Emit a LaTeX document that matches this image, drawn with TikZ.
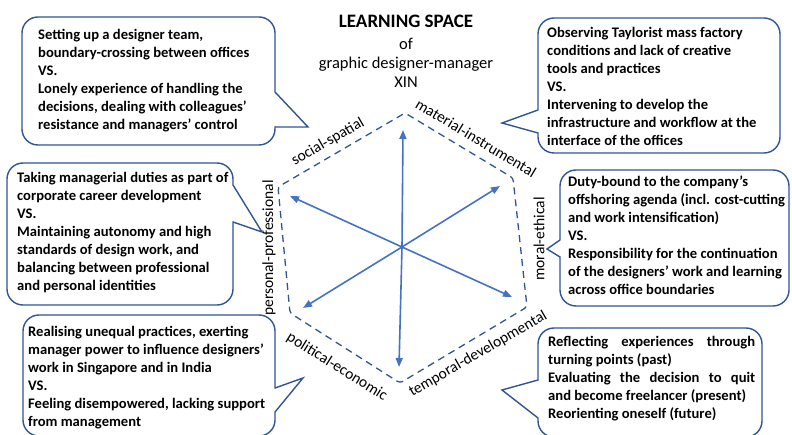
\documentclass[tikz,border=0pt]{standalone}
\usepackage{fontspec}
\setmainfont{Carlito}
\usetikzlibrary{arrows.meta}
\definecolor{darkblue}{HTML}{2F5597}
\definecolor{lightblue}{HTML}{4472C4}
\begin{document}
\begin{tikzpicture}[x=1pt,y=-1pt,
box_style/.style={draw=darkblue,line width=1.4pt,fill=white,rounded corners=16pt},
tip_style/.style={draw=darkblue,line width=1.4pt,line join=miter},
gap_style/.style={fill=white},
text_style/.style={anchor=north west,inner sep=0pt,align=left,font=\fontsize{14.6}{18}\selectfont\bfseries},
hex_style/.style={draw=darkblue,line width=1.3pt,dash pattern=on 7pt off 5pt,rounded corners=3pt},
spoke_style/.style={draw=lightblue,line width=1.6pt,-{Triangle[length=9pt,width=7pt]}},
label_style/.style={inner sep=0pt,font=\fontsize{15.5}{18}\selectfont},
title_style/.style={anchor=north,inner sep=0pt,align=center,font=\fontsize{16.5}{19}\selectfont}]
\useasboundingbox (0,0) rectangle (792,435);

\node[title_style] (title) at (406,15) {{\fontsize{19}{20}\selectfont\bfseries LEARNING SPACE}\\[3pt]of\\graphic designer-manager\\XIN};

\coordinate (h0) at (405,113);
\coordinate (h1) at (513,178);
\coordinate (h2) at (527,307);
\coordinate (h3) at (400,383);
\coordinate (h4) at (290,313);
\coordinate (h5) at (278,187);
\draw[hex_style] (h0) -- (h1) -- (h2) -- (h3) -- (h4) -- (h5) -- cycle;

\coordinate (c) at (402,247);
\coordinate (a0) at (403,130);
\coordinate (a1) at (500,186);
\coordinate (a2) at (512,297);
\coordinate (a3) at (399,367);
\coordinate (a4) at (303,308);
\coordinate (a5) at (290,196);
\draw[spoke_style] (c) -- (a0);
\draw[spoke_style] (c) -- (a1);
\draw[spoke_style] (c) -- (a2);
\draw[spoke_style] (c) -- (a3);
\draw[spoke_style] (c) -- (a4);
\draw[spoke_style] (c) -- (a5);

\node[label_style,rotate=30] (l0) at (328,142) {social-spatial};
\node[label_style,rotate=-31] (l1) at (476,138) {material-instrumental};
\node[label_style,rotate=90] (l2) at (539,239) {moral-ethical};
\node[label_style,rotate=30] (l3) at (478,354) {temporal-developmental};
\node[label_style,rotate=-32] (l4) at (337,367) {political-economic};
\node[label_style,rotate=90] (l5) at (269,248) {personal-professional};

\draw[box_style] (22,17) rectangle (275,145);
\fill[gap_style] (271,92.5) -- (275.5,92.5) -- (308,127) -- (275.5,126.5) -- (271,126.5) -- cycle;
\draw[tip_style] (275,92) -- (308,127) -- (275,127);

\draw[box_style] (538,18) rectangle (780,153);
\fill[gap_style] (542,110.5) -- (537.5,110.5) -- (502,123) -- (537.5,132.5) -- (542,132.5) -- cycle;
\draw[tip_style] (538,110) -- (502,123) -- (538,133);

\draw[box_style] (7,163) rectangle (233,305);
\fill[gap_style] (229,185.5) -- (233.5,185.5) -- (262,232) -- (233.5,221.5) -- (229,221.5) -- cycle;
\draw[tip_style] (233,185) -- (262,232) -- (233,222);

\draw[box_style] (560,170) rectangle (789,306);
\fill[gap_style] (564,240.5) -- (559.5,240.5) -- (547,249) -- (559.5,256.5) -- (564,256.5) -- cycle;
\draw[tip_style] (560,240) -- (547,249) -- (560,257);

\draw[box_style] (23,315) rectangle (275,436);
\fill[gap_style] (271,388.5) -- (275.5,388.5) -- (303,378) -- (275.5,411.5) -- (271,411.5) -- cycle;
\draw[tip_style] (275,388) -- (303,378) -- (275,412);

\draw[box_style] (538,328) rectangle (762,437);
\fill[gap_style] (542,380.5) -- (537.5,380.5) -- (502,390) -- (537.5,417.5) -- (542,417.5) -- cycle;
\draw[tip_style] (538,380) -- (502,390) -- (538,418);

\node[text_style] (t0) at (38,29) {Setting up a designer team,\\boundary-crossing between offices\\VS.\\Lonely experience of handling the\\decisions, dealing with colleagues’\\resistance and managers’ control};
\node[text_style] (t1) at (547,27) {Observing Taylorist mass factory\\conditions and lack of creative\\tools and practices\\VS.\\Intervening to develop the\\infrastructure and workflow at the\\interface of the offices};
\node[text_style] (t2) at (17,172) {Taking managerial duties as part of\\corporate career development\\VS.\\Maintaining autonomy and high\\standards of design work, and\\balancing between professional\\and personal identities};
\node[text_style] (t3) at (568,176) {Duty-bound to the company’s\\offshoring agenda (incl. cost-cutting\\and work intensification)\\VS.\\Responsibility for the continuation\\of the designers’ work and learning\\across office boundaries};
\node[text_style] (t4) at (28,326) {Realising unequal practices, exerting\\manager power to influence designers’\\work in Singapore and in India\\VS.\\Feeling disempowered, lacking support\\from management};
\node[text_style,text width=207pt,align=justify] (t5) at (548,336) {Reflecting experiences through\linebreak turning points (past)\\Evaluating the decision to quit\linebreak and become freelancer (present)\\Reorienting oneself (future)};
\end{tikzpicture}
\end{document}
